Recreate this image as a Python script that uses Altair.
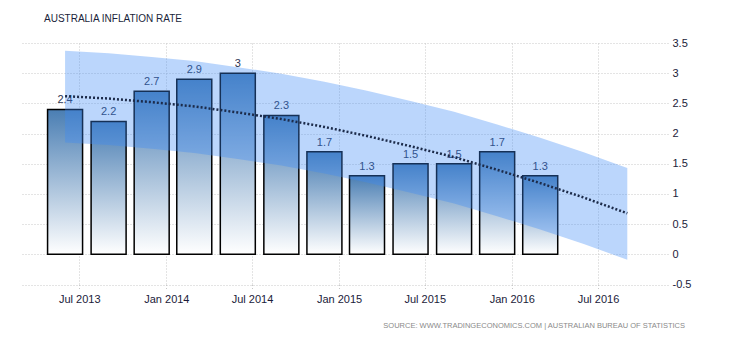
import altair as alt
import pandas as pd

# ---- data ----
bar_dates = ["2013-06-01", "2013-09-01", "2013-12-01", "2014-03-01", "2014-06-01", "2014-09-01",
             "2014-12-01", "2015-03-01", "2015-06-01", "2015-09-01", "2015-12-01", "2016-03-01"]
bar_values = [2.4, 2.2, 2.7, 2.9, 3.0, 2.3, 1.7, 1.3, 1.5, 1.5, 1.7, 1.3]

fc_dates = ["2013-06-01", "2013-09-01", "2013-12-01", "2014-03-01", "2014-06-01", "2014-09-01",
            "2014-12-01", "2015-03-01", "2015-06-01", "2015-09-01", "2015-12-01", "2016-03-01",
            "2016-06-01", "2016-09-01"]
trend = [2.62, 2.58, 2.52, 2.45, 2.35, 2.24, 2.11, 1.96, 1.79, 1.61, 1.40, 1.18, 0.94, 0.68]
upper = [3.37, 3.33, 3.27, 3.20, 3.10, 2.99, 2.86, 2.71, 2.54, 2.36, 2.15, 1.93, 1.69, 1.43]
lower = [1.85, 1.81, 1.75, 1.68, 1.58, 1.47, 1.34, 1.19, 1.02, 0.84, 0.63, 0.41, 0.17, -0.09]

y_ticks = [-0.5, 0, 0.5, 1, 1.5, 2, 2.5, 3, 3.5]
x_tick_months = [(2013, 7), (2014, 1), (2014, 7), (2015, 1), (2015, 7), (2016, 1), (2016, 7)]

title_text = "AUSTRALIA INFLATION RATE"
source_text = "SOURCE: WWW.TRADINGECONOMICS.COM | AUSTRALIAN BUREAU OF STATISTICS"

# ---- tables ----
bars = pd.DataFrame({"date": bar_dates, "value": bar_values})
fc = pd.DataFrame({"date": fc_dates, "trend": trend, "upper": upper, "lower": lower})

FONT = "Liberation Sans"
GRID = "#c8c8c8"

x_scale = alt.Scale(domain=[alt.DateTime(year=2013, month=3, date=2),
                            alt.DateTime(year=2016, month=11, date=26)], padding=0)
y_scale = alt.Scale(domain=[-0.5, 3.5], nice=False, zero=False)

x_axis = alt.Axis(
    values=[alt.DateTime(year=y, month=m, date=1) for y, m in x_tick_months],
    format="%b %Y", labelAngle=0, title=None, domain=False,
    grid=True, gridColor=GRID, gridDash=[1, 2], gridWidth=1,
    ticks=True, tickColor=GRID, tickDash=[1, 2], tickSize=6,
    labelPadding=3, labelFont=FONT, labelFontSize=11, labelColor="#1b1b3a",
    labelOverlap=False,
)
y_axis = alt.Axis(
    values=y_ticks, orient="right", title=None, domain=False, ticks=False,
    grid=True, gridColor=GRID, gridDash=[1, 2], gridWidth=1,
    labelPadding=4, labelFont=FONT, labelFontSize=11, labelColor="#1b1b3a",
    labelAlign="left", labelBaseline="middle",
    labelExpr="toString(datum.value)", labelOverlap=False, labelBound=False,
)

X = lambda f: alt.X(f, scale=x_scale, axis=x_axis)
Y = lambda f: alt.Y(f, scale=y_scale, axis=y_axis)

bar_layer = alt.Chart(bars).mark_bar(
    size=35, stroke="black", strokeWidth=1.5,
    color=alt.Gradient(
        gradient="linear", x1=0, y1=0, x2=0, y2=1,
        stops=[alt.GradientStop(color="#4a7eb3", offset=0),
               alt.GradientStop(color="#ffffff", offset=1)],
    ),
).encode(x=X("date:T"), y=Y("value:Q"))

label_layer = alt.Chart(bars).mark_text(
    dy=-6, baseline="alphabetic", font=FONT, fontSize=11, color="#2b3452",
).encode(
    x=X("date:T"), y=Y("value:Q"),
    text=alt.Text("value:Q", format="~g"),
)

band_layer = alt.Chart(fc).mark_area(color="#3d8af7", opacity=0.35).encode(
    x=X("date:T"), y=Y("upper:Q"), y2="lower:Q",
)

trend_layer = alt.Chart(fc).mark_line(
    color="#1c2b4a", strokeWidth=2.5, strokeDash=[2, 2],
).encode(x=X("date:T"), y=Y("trend:Q"))

title_layer = alt.Chart(pd.DataFrame({"t": [title_text]})).mark_text(
    align="left", baseline="alphabetic", font=FONT, fontSize=10, color="#1a1f3a",
).encode(
    text="t:N", x=alt.value(22), y=alt.value(-21),
)

source_layer = alt.Chart(pd.DataFrame({"t": [source_text]})).mark_text(
    align="right", baseline="middle", font=FONT, fontSize=7.5, color="#8a8a8a",
).encode(
    text="t:N", x=alt.value(663), y=alt.value(283),
)

chart = alt.layer(
    bar_layer, label_layer, band_layer, trend_layer, title_layer, source_layer
).properties(
    width=646, height=241.5,
    autosize=alt.AutoSizeParams(type="none"),
    padding={"left": 22, "top": 43, "right": 62, "bottom": 55},
).configure(background="white").configure_view(stroke=None)

chart.save("out.html", embed_options={"renderer": "svg", "actions": False})
